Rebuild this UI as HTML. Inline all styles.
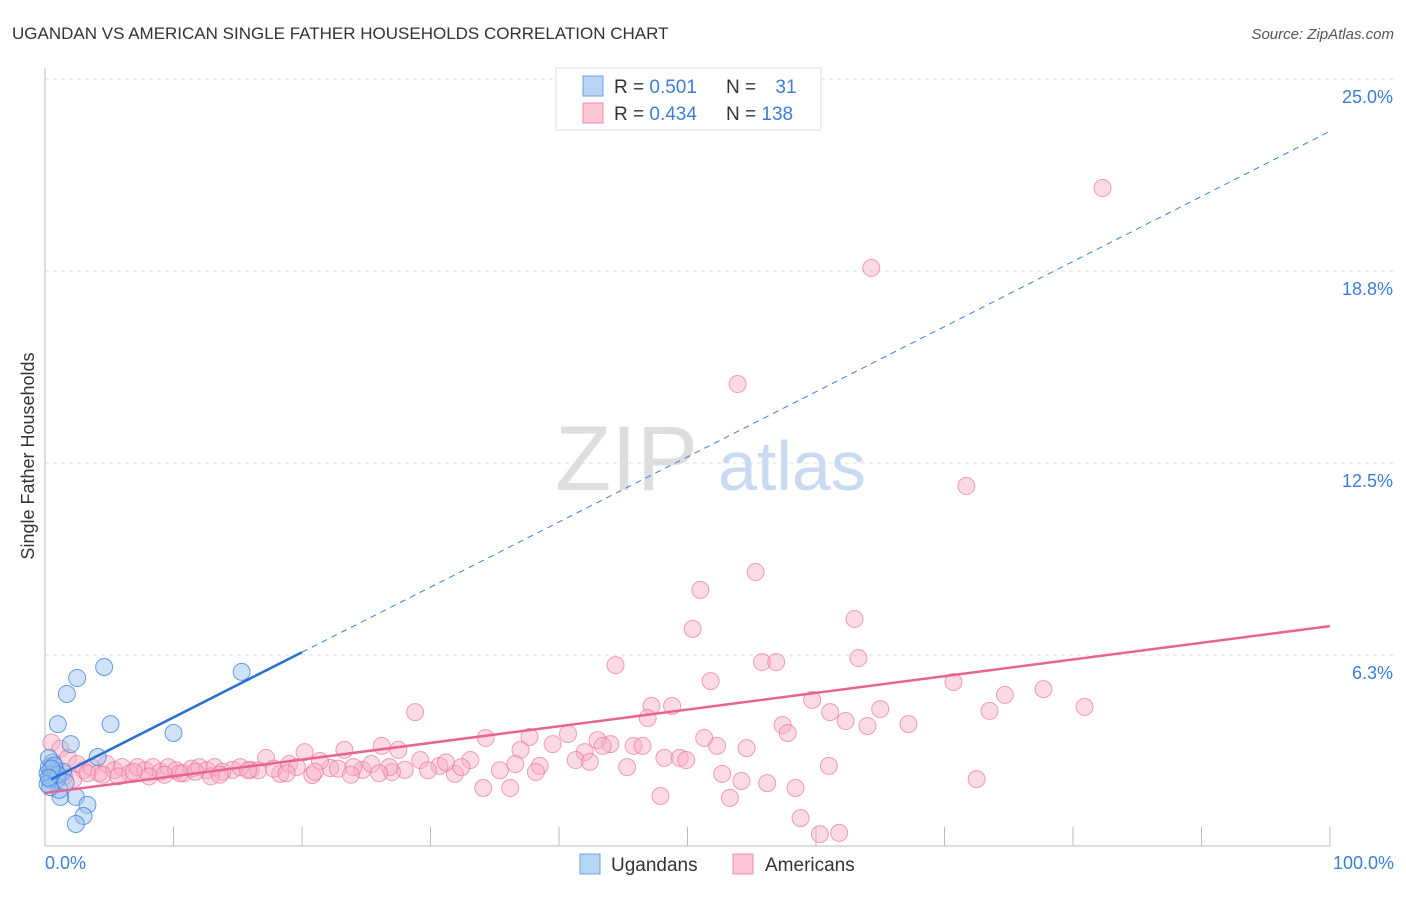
<!DOCTYPE html>
<html><head><meta charset="utf-8"><style>
body{margin:0;background:#fff;font-family:"Liberation Sans",sans-serif}
svg text{font-family:"Liberation Sans",sans-serif}
</style></head><body>
<svg id="chart" width="1406" height="892" viewBox="0 0 1406 892" xmlns="http://www.w3.org/2000/svg">
<text x="12" y="39" font-size="17" fill="#333">UGANDAN VS AMERICAN SINGLE FATHER HOUSEHOLDS CORRELATION CHART</text>
<text x="1394" y="39" font-size="15" fill="#555" font-style="italic" text-anchor="end">Source: ZipAtlas.com</text>
<g id="grid"></g>
<g id="yticks"></g>
<g id="xaxis"></g>
<text x="555" y="490" font-size="92" fill="#ddd" font-family="Liberation Serif">ZIP</text>
<text x="718" y="490" font-size="70" fill="#c9daf0">atlas</text>
<g id="pink"></g>
<g id="blue"></g>
<g id="trends"></g>
<text transform="translate(34,456) rotate(-90)" font-size="18" fill="#333" text-anchor="middle">Single Father Households</text>
<text x="45" y="869" font-size="18" fill="#3b7dd8">0.0%</text>
<text x="1394" y="869" font-size="18" fill="#3b7dd8" text-anchor="end">100.0%</text>
<g>
<rect x="556" y="68" width="265" height="62" fill="#fff" stroke="#ddd"/>
<rect x="583" y="76" width="20" height="20" fill="#b8d4f5" stroke="#6fa0e0"/>
<rect x="583" y="103" width="20" height="20" fill="#fbc6d4" stroke="#ee8aa8"/>
<text x="614" y="93" font-size="19" fill="#333">R = <tspan fill="#3b7dd8">0.501</tspan></text>
<text x="726" y="93" font-size="19" fill="#333">N = <tspan fill="#3b7dd8" dx="14">31</tspan></text>
<text x="614" y="120" font-size="19" fill="#333">R = <tspan fill="#3b7dd8">0.434</tspan></text>
<text x="726" y="120" font-size="19" fill="#333">N = <tspan fill="#3b7dd8">138</tspan></text>
</g>
<g>
<rect x="580" y="854" width="20" height="20" fill="#b8d4f5" stroke="#6fa0e0"/>
<text x="611" y="871" font-size="19" fill="#333">Ugandans</text>
<rect x="733" y="854" width="20" height="20" fill="#fbc6d4" stroke="#ee8aa8"/>
<text x="765" y="871" font-size="19" fill="#333">Americans</text>
</g>
</svg>
<script>
const yTickValues=[6.25,12.5,18.75,25];
const yTickLabels=["6.3%","12.5%","18.8%","25.0%"];
const xTickValues=[0,10,20,30,40,50,60,70,80,90,100];
const blueX=[4.6,2.5,1.7,15.3,1.0,5.1,10.0,2.0,4.1,1.2,2.4,3.3,3.0,2.4,1.1,0.4,0.2,0.3,0.5,0.8,0.6,0.3,0.9,1.4,0.2,0.7,0.4,1.0,0.5,0.3,1.6];
const blueY=[5.86,5.5,4.98,5.7,4.0,4.0,3.71,3.35,2.93,1.63,1.63,1.37,1.01,0.75,1.86,2.18,2.4,2.6,2.3,2.5,2.75,2.9,2.2,2.45,2.05,2.65,1.95,2.35,2.55,2.25,2.1];
const pinkX=[82.3,64.3,53.9,71.7,55.3,51.0,63.0,50.4,63.3,44.4,55.8,56.9,51.8,70.7,77.7,74.7,47.2,48.8,59.7,80.9,28.8,73.5,61.1,65.0,62.3,46.9,57.4,67.2,64.0,57.8,34.3,51.3,52.3,54.6,37.7,40.7,39.5,43.0,44.0,45.8,46.5,43.4,26.2,23.3,27.5,20.2,17.2,37.0,42.0,48.2,49.4,49.9,41.3,42.4,45.3,52.7,54.2,56.2,58.4,61.0,72.5,47.9,53.3,58.8,60.3,61.8,34.1,36.2,38.5,38.2,33.1,31.9,30.7,29.2,28.0,27.0,24.7,22.2,20.8,18.3,16.0,14.6,0.5,1.2,1.8,2.5,3.0,3.6,4.2,4.8,5.4,6.0,6.6,7.2,7.8,8.4,9.0,9.6,10.2,10.8,11.4,12.0,12.6,13.2,13.8,15.2,16.6,17.8,19.0,19.6,21.4,22.8,24.0,25.4,26.8,29.8,31.2,32.4,35.4,36.6,0.8,1.5,2.2,3.3,4.5,5.7,6.9,8.1,9.3,10.5,11.7,12.9,13.6,15.8,18.8,21.0,23.8,26.0];
const pinkY=[21.45,18.85,15.07,11.75,8.95,8.37,7.42,7.1,6.15,5.92,6.02,6.02,5.4,5.37,5.14,4.95,4.59,4.59,4.79,4.56,4.39,4.43,4.39,4.49,4.1,4.2,3.97,4.0,3.94,3.71,3.55,3.55,3.29,3.22,3.58,3.68,3.35,3.48,3.35,3.29,3.29,3.29,3.29,3.16,3.16,3.09,2.9,3.16,3.09,2.9,2.9,2.83,2.83,2.77,2.6,2.38,2.15,2.08,1.92,2.64,2.21,1.66,1.6,0.94,0.42,0.46,1.92,1.92,2.64,2.44,2.83,2.38,2.64,2.83,2.51,2.44,2.51,2.57,2.34,2.38,2.51,2.51,3.4,3.2,2.9,2.7,2.5,2.6,2.4,2.7,2.5,2.6,2.4,2.6,2.5,2.6,2.45,2.6,2.5,2.4,2.55,2.6,2.5,2.6,2.45,2.6,2.5,2.55,2.7,2.6,2.8,2.55,2.6,2.7,2.6,2.5,2.75,2.6,2.5,2.7,2.6,2.3,2.2,2.4,2.35,2.3,2.45,2.3,2.35,2.4,2.45,2.3,2.35,2.5,2.4,2.45,2.35,2.4];
const blueTrend=[2.1,0.212];
const pinkTrend=[1.76,0.0543];
const X0=45,X1=1330,Y0=847,Y25=79;
const sx=v=>X0+v/100*(X1-X0);
const sy=v=>Y0-v/25*(Y0-Y25);
const NS="http://www.w3.org/2000/svg";
function mk(tag,attrs,parent){const e=document.createElementNS(NS,tag);for(const k in attrs)e.setAttribute(k,attrs[k]);parent.appendChild(e);return e;}
const grid=document.getElementById('grid'),yt=document.getElementById('yticks'),xa=document.getElementById('xaxis');
yTickValues.forEach((v,i)=>{
  const l=mk('line',{x1:X0,x2:1394,y1:sy(v),y2:sy(v),stroke:'#ddd','stroke-dasharray':'4,4'},grid);
  
  
  const t=mk('text',{x:1393,y:sy(v)+24,'font-size':18,fill:'#3b7dd8','text-anchor':'end'},yt);
  t.textContent=yTickLabels[i];
  
  
});
const ax=mk('line',{x1:X0,x2:X0,y1:68,y2:846,stroke:'#bbb'},xa);


const bx=mk('line',{x1:X0,x2:X1,y1:846,y2:846,stroke:'#bbb'},xa);


xTickValues.forEach(v=>{
  const t=mk('line',{x1:sx(v),x2:sx(v),y1:827,y2:846,stroke:'#bbb'},xa);
  
  
});
const pg=document.getElementById('pink');
pinkX.forEach((x,i)=>{
  const c=mk('circle',{cx:sx(x),cy:sy(pinkY[i]),r:8.5,fill:'rgba(248,172,196,0.45)',stroke:'rgba(232,120,155,0.7)','stroke-width':1},pg);
  
  
});
const bg=document.getElementById('blue');
blueX.forEach((x,i)=>{
  const c=mk('circle',{cx:sx(x),cy:sy(blueY[i]),r:8.5,fill:'rgba(150,190,240,0.45)',stroke:'rgba(60,125,215,0.75)','stroke-width':1},bg);
  
  
});
const tg=document.getElementById('trends');
const b1=mk('line',{x1:sx(20),y1:sy(blueTrend[0]+blueTrend[1]*20),x2:sx(100),y2:sy(blueTrend[0]+blueTrend[1]*100),stroke:'#3b7dd8','stroke-width':1,'stroke-dasharray':'6,5'},tg);


const b2=mk('line',{x1:sx(0.5),y1:sy(blueTrend[0]+blueTrend[1]*0.5),x2:sx(20),y2:sy(blueTrend[0]+blueTrend[1]*20),stroke:'#2a6fd6','stroke-width':2.5},tg);


const p1=mk('line',{x1:sx(0),y1:sy(pinkTrend[0]),x2:sx(100),y2:sy(pinkTrend[0]+pinkTrend[1]*100),stroke:'#e8638f','stroke-width':2.5},tg);


</script>
</body></html>
